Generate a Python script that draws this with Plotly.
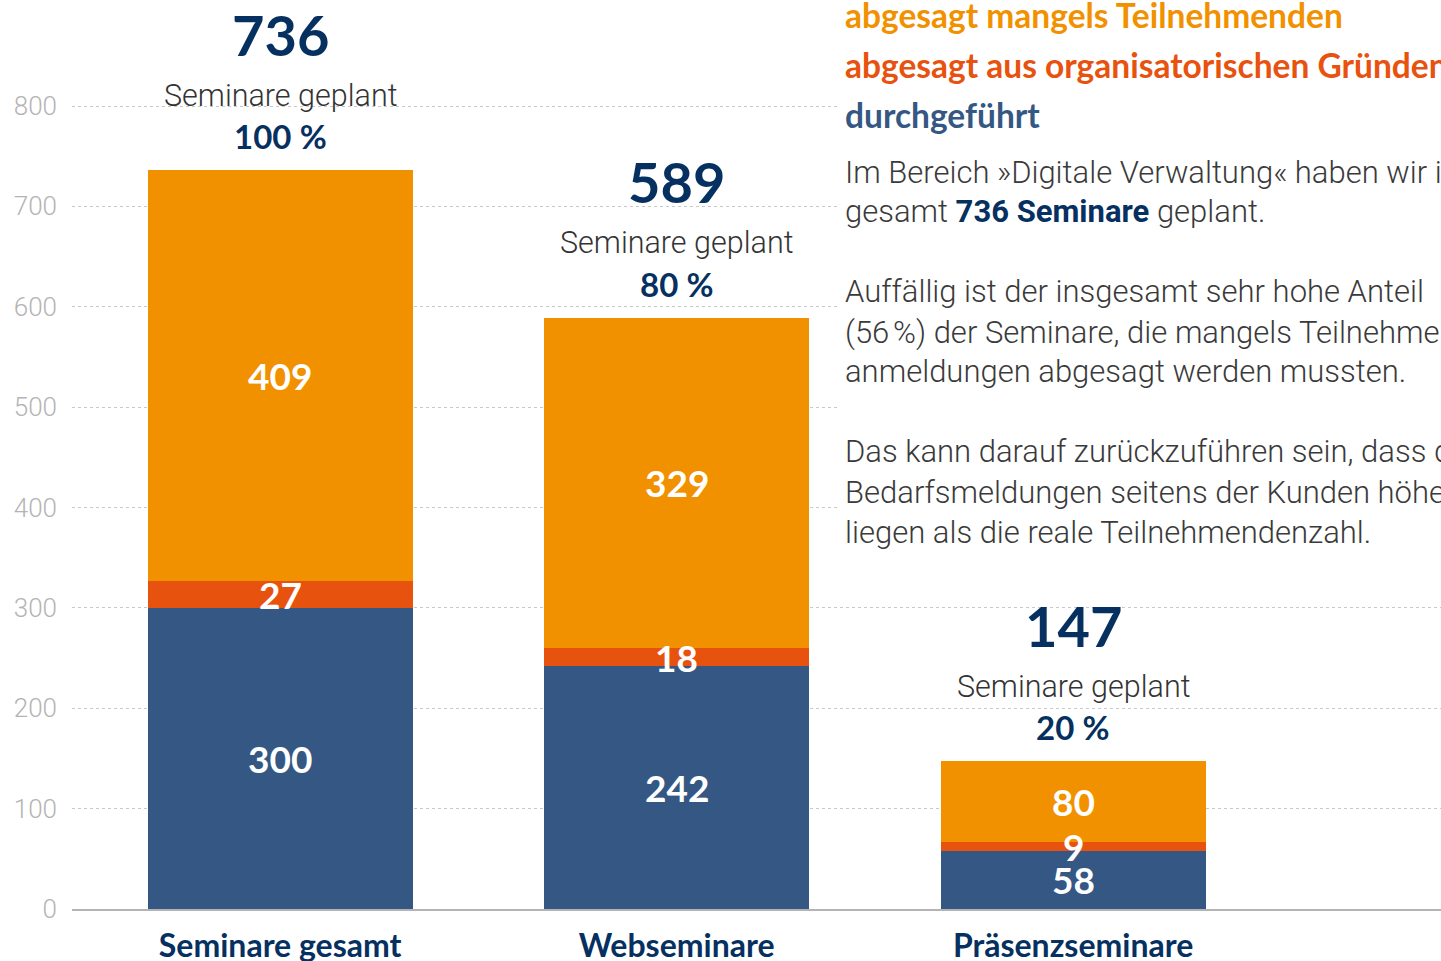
import plotly.graph_objects as go

# data
categories = ["Seminare gesamt", "Webseminare", "Präsenzseminare"]
durchgefuehrt = [300, 242, 58]
abgesagt_organisatorisch = [27, 18, 9]
abgesagt_teilnehmende = [409, 329, 80]
geplant = [736, 589, 147]
anteil = ["100\u202f%", "80\u202f%", "20\u202f%"]
y_ticks = [0, 100, 200, 300, 400, 500, 600, 700, 800]

legend_items = [
    ("abgesagt mangels Teilnehmenden", "#F29100"),
    ("abgesagt aus organisatorischen Gründen", "#E8520F"),
    ("durchgeführt", "#345883"),
]
text_lines = [
    "Im Bereich »Digitale Verwaltung« haben wir ins-",
    "gesamt <b style='color:#06305F'>736 Seminare</b> geplant.",
    "",
    "Auffällig ist der insgesamt sehr hohe Anteil",
    "(56\u202f%) der Seminare, die mangels Teilnehmer-",
    "anmeldungen abgesagt werden mussten.",
    "",
    "Das kann darauf zurückzuführen sein, dass die",
    "Bedarfsmeldungen seitens der Kunden höher",
    "liegen als die reale Teilnehmendenzahl.",
]

NAVY = "#06305F"
BLUE = "#345883"
RED = "#E8520F"
ORANGE = "#F29100"
W, H = 1441, 961
ML, MB = 72, 52
plot_h = H - MB

fig = go.Figure()

segments = [
    (durchgefuehrt, BLUE, "durchgeführt"),
    (abgesagt_organisatorisch, RED, "abgesagt aus organisatorischen Gründen"),
    (abgesagt_teilnehmende, ORANGE, "abgesagt mangels Teilnehmenden"),
]
base = [0, 0, 0]
for vals, col, name in segments:
    fig.add_trace(go.Bar(
        x=categories, y=vals, base=base, name=name,
        marker=dict(color=col, line=dict(width=0)),
        width=0.668, showlegend=False,
    ))
    # value label in the middle of each segment
    for cat, b, v in zip(categories, base, vals):
        fig.add_annotation(x=cat, y=b + v / 2, text=str(v), showarrow=False,
                           yanchor="middle",
                           font=dict(family="Lato", size=37, color="white", weight="bold"))
    base = [b + v for b, v in zip(base, vals)]

# labels above bars
for cat, total, pct in zip(categories, geplant, anteil):
    fig.add_annotation(x=cat, y=total, text=str(total), showarrow=False,
                       yanchor="middle", yshift=136,
                       font=dict(family="Lato", size=56, color=NAVY, weight="bold"))
    fig.add_annotation(x=cat, y=total, text="Seminare geplant", showarrow=False,
                       yanchor="middle", yshift=75,
                       font=dict(family="Roboto", size=30.5, color="#333333", weight=300))
    fig.add_annotation(x=cat, y=total, text=pct, showarrow=False,
                       yanchor="middle", yshift=34,
                       font=dict(family="Lato", size=33, color=NAVY, weight="bold"))

# white panel behind the right-hand text block (hides the gridlines there)
fig.add_shape(type="rect", xref="paper", yref="paper",
              x0=(838 - ML) / (W - ML), x1=1.0,
              y0=(plot_h - 560) / plot_h, y1=1.0,
              fillcolor="white", line=dict(width=0), layer="above")

tx = (843 - ML) / (W - ML)
for (label, col), py in zip(legend_items, [15, 65, 115]):
    fig.add_annotation(xref="paper", yref="paper", x=tx, y=(plot_h - py) / plot_h,
                       xanchor="left", yanchor="middle", text=label, showarrow=False,
                       font=dict(family="Lato", size=33.5, color=col, weight="bold"))

py = 172
for line in text_lines:
    if line:
        fig.add_annotation(xref="paper", yref="paper", x=tx, y=(plot_h - py) / plot_h,
                           xanchor="left", yanchor="middle", text=line, showarrow=False,
                           font=dict(family="Roboto", size=31, color="#3a3a3a", weight=300))
    py += 40

fig.update_layout(
    width=W, height=H,
    margin=dict(l=ML, r=0, t=0, b=MB, autoexpand=False),
    plot_bgcolor="white", paper_bgcolor="white",
    barmode="overlay", bargap=0,
    showlegend=False,
)
fig.update_xaxes(
    range=[-0.525, 2.928], showgrid=False, automargin=False,
    showline=True, linecolor="#B4B4B4", linewidth=2,
    ticks="", ticklabelstandoff=8,
    tickfont=dict(family="Lato", size=32, color=NAVY, weight="bold"),
)
fig.update_yaxes(
    range=[0, plot_h * 800 / (909 - 106)], automargin=False,
    tickvals=y_ticks, showgrid=True, gridcolor="#C8C8C8", griddash="dot", gridwidth=1,
    zeroline=False, showline=False, ticks="", ticklabelstandoff=14,
    tickfont=dict(family="Roboto", size=26, color="#B4B4B4", weight=300),
)

# page margin off so the figure sits flush in the window
fig.write_html("out.html", config={"displayModeBar": False},
               post_script="document.body.style.margin='0';")
